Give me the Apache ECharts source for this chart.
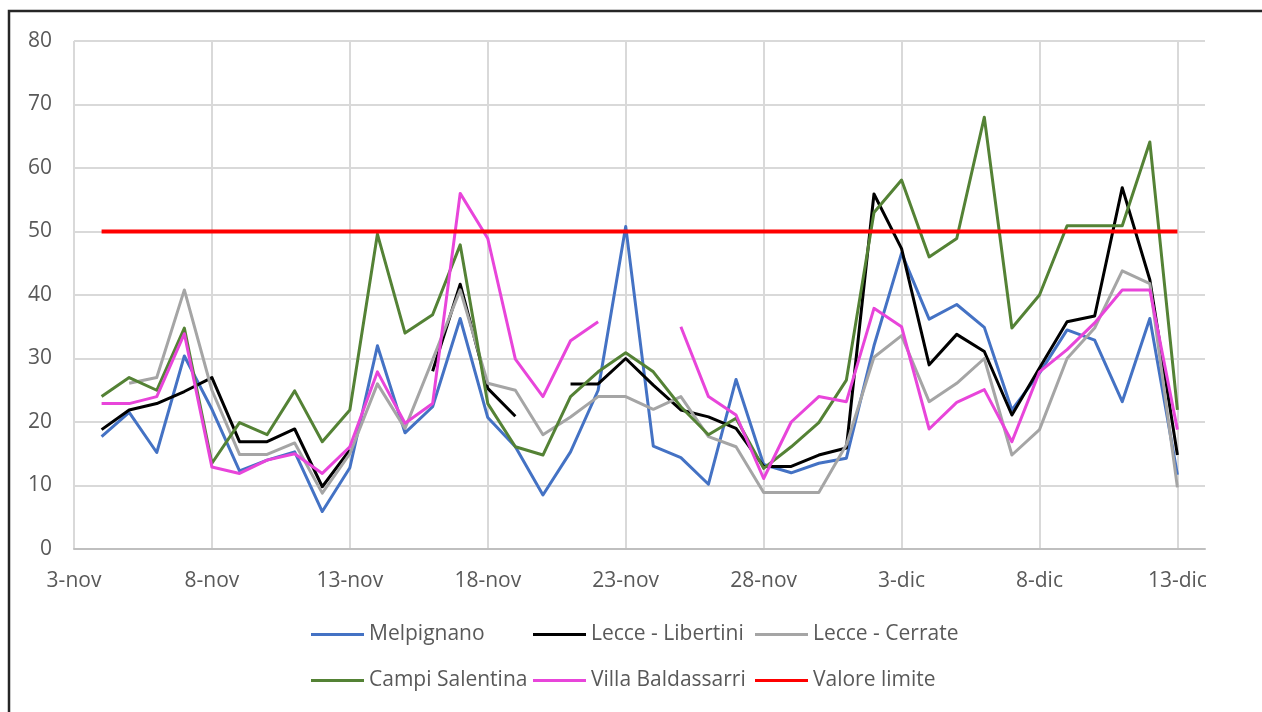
<!DOCTYPE html>
<html>
<head>
<meta charset="utf-8">
<title>PM10</title>
<script src="https://cdn.jsdelivr.net/npm/echarts/dist/echarts.min.js"></script>
<style>
  html, body { margin: 0; padding: 0; background: #fff; }
  #chart { width: 1262px; height: 712px; }
</style>
</head>
<body>
<div id="chart"></div>
<script>
// giorni (3-nov ... 14-dic), etichette ogni 5 giorni
var giorni = [
  "3-nov", "4-nov", "5-nov", "6-nov", "7-nov", "8-nov", "9-nov", "10-nov", "11-nov", "12-nov",
  "13-nov", "14-nov", "15-nov", "16-nov", "17-nov", "18-nov", "19-nov", "20-nov", "21-nov", "22-nov",
  "23-nov", "24-nov", "25-nov", "26-nov", "27-nov", "28-nov", "29-nov", "30-nov", "1-dic", "2-dic",
  "3-dic", "4-dic", "5-dic", "6-dic", "7-dic", "8-dic", "9-dic", "10-dic", "11-dic", "12-dic",
  "13-dic", "14-dic"
];

var melpignano = [
  null, 17.7, 21.5, 15.2, 30.4, 22, 12.3, 14, 15.3, 5.9,
  12.8, 32, 18.3, 22.4, 36.3, 20.7, 16.1, 8.5, 15.3, 25,
  50.8, 16.2, 14.4, 10.2, 26.7, 13.3, 12, 13.5, 14.3, 32,
  46.6, 36.2, 38.5, 34.9, 21.9, 27.7, 34.5, 32.9, 23.2, 36.3,
  11.7
];

var lecceLibertini = [
  null, 18.8, 21.9, 22.9, 24.8, 27, 16.9, 16.9, 18.9, 9.8,
  15.6, null, null, 28, 41.7, 25.3, 20.9, null, 26, 26,
  30, 25.8, 21.9, 20.8, 19, 13, 13, 14.8, 15.9, 55.9,
  47.3, 29, 33.8, 31.1, 21.1, 28.5, 35.8, 36.7, 56.9, 42.4,
  14.8
];

var lecceCerrate = [
  null, null, 26.1, 27, 40.8, 25, 14.9, 14.9, 16.7, 8.8,
  15, 26, 19, 29.8, 40.8, 26.1, 25, 18, 20.8, 24,
  24, 22, 24, 17.7, 16.1, 8.9, 8.9, 8.9, 16.4, 30.2,
  33.6, 23.2, 26.1, 30, 14.8, 18.8, 30, 34.8, 43.8, 41.8,
  9.7
];

var campiSalentina = [
  null, 24, 27, 25, 34.8, 13.5, 19.9, 18, 24.9, 16.9,
  21.9, 49.6, 34, 36.9, 47.9, 22.9, 16.1, 14.8, 24, 27.9,
  30.9, 27.9, 22.4, 18, 20.6, 12.7, 16.1, 19.9, 26.6, 53,
  58.1, 46, 48.9, 68, 34.8, 40, 50.9, 50.9, 50.9, 64.1,
  21.9
];

var villaBaldassarri = [
  null, 22.9, 22.9, 24, 33.9, 12.9, 11.9, 14, 15, 11.9,
  16.1, 27.9, 19.8, 22.9, 56, 48.9, 29.9, 24, 32.8, 35.8,
  null, null, 35, 24, 21.1, 11.1, 20, 24, 23.2, 37.9,
  35, 18.9, 23.1, 25.1, 16.9, 27.9, 31.4, 35.6, 40.8, 40.8,
  18.8
];

var valoreLimite = [
  null, 50, 50, 50, 50, 50, 50, 50, 50, 50,
  50, 50, 50, 50, 50, 50, 50, 50, 50, 50,
  50, 50, 50, 50, 50, 50, 50, 50, 50, 50,
  50, 50, 50, 50, 50, 50, 50, 50, 50, 50,
  50
];

var font = "'Open Sans', 'Liberation Sans', sans-serif";
var testo = "#595959";

var serie = [
  { name: "Melpignano", data: melpignano, color: "#4472C4", width: 3 },
  { name: "Lecce - Libertini", data: lecceLibertini, color: "#000000", width: 3 },
  { name: "Lecce - Cerrate", data: lecceCerrate, color: "#A5A5A5", width: 3 },
  { name: "Campi Salentina", data: campiSalentina, color: "#548235", width: 3 },
  { name: "Villa Baldassarri", data: villaBaldassarri, color: "#E845DA", width: 3 },
  { name: "Valore limite", data: valoreLimite, color: "#FF0000", width: 4 }
];

// posizioni della legenda (due righe, tre colonne)
var legendaLeft = [311, 533, 755, 311, 533, 755];
var legendaTop = [624, 624, 624, 670, 670, 670];

var chart = echarts.init(document.getElementById("chart"));

var options = {
  animation: false,
  textStyle: { fontFamily: font },
  graphic: [
    {
      // cornice del grafico
      type: "rect",
      shape: { x: 9, y: 11, width: 1400, height: 1000 },
      style: { fill: "none", stroke: "#262626", lineWidth: 2.5 },
      silent: true
    }
  ],
  legend: serie.map(function (s, i) {
    return {
      data: [s.name],
      left: legendaLeft[i],
      top: legendaTop[i],
      padding: 0,
      icon: "rect",
      itemWidth: 53,
      itemHeight: 3,
      selectedMode: false,
      textStyle: { fontFamily: font, fontSize: 21, color: testo }
    };
  }),
  grid: {
    left: 74,
    right: 57,
    top: 41,
    bottom: 163
  },
  xAxis: {
    type: "category",
    data: giorni,
    boundaryGap: false,
    axisLine: { show: true, lineStyle: { color: "#BFBFBF", width: 2 } },
    axisTick: { show: false },
    axisLabel: {
      interval: 4,
      margin: 22,
      fontSize: 21,
      color: testo,
      fontFamily: font
    },
    splitLine: {
      show: true,
      interval: 4,
      lineStyle: { color: "#D9D9D9", width: 2 }
    }
  },
  yAxis: {
    type: "value",
    min: 0,
    max: 80,
    interval: 10,
    axisLine: { show: false },
    axisTick: { show: false },
    axisLabel: {
      margin: 22,
      fontSize: 21,
      color: testo,
      fontFamily: font
    },
    splitLine: {
      show: true,
      lineStyle: { color: "#D9D9D9", width: 2 }
    }
  },
  series: serie.map(function (s) {
    return {
      name: s.name,
      type: "line",
      data: s.data,
      showSymbol: false,
      connectNulls: false,
      color: s.color,
      lineStyle: { color: s.color, width: s.width, join: "round" }
    };
  })
};

chart.setOption(options);
</script>
</body>
</html>
